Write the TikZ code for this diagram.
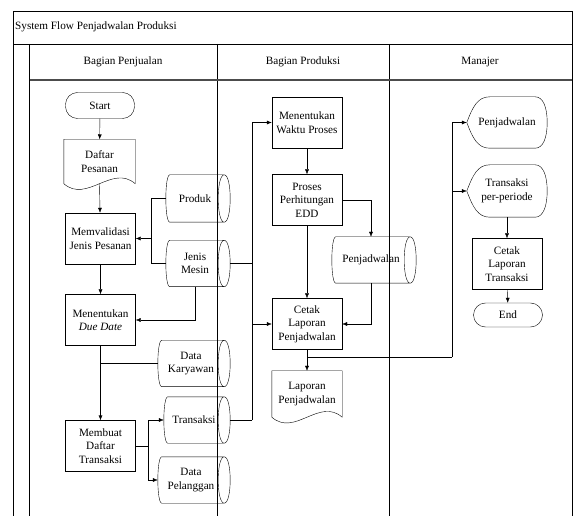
\documentclass[tikz,border=0pt]{standalone}
\usepackage{fontspec}
\setmainfont{Liberation Serif}
\usetikzlibrary{arrows.meta,calc}

\begin{document}
\begin{tikzpicture}[x=1pt,y=1pt,yscale=-1,
    font=\fontsize{11.2}{13.6}\selectfont,
    every node/.style={inner sep=1pt, align=center},
    proc/.style={draw, minimum width=70, minimum height=51},
    term/.style={draw, rounded corners=12, minimum width=69, minimum height=26},
    store/.style={minimum width=58, minimum height=46,
        append after command={\pgfextra{\draw ([xshift=4]\tikzlastnode.north west) -- (\tikzlastnode.north east) .. controls +(8,0) and +(8,0) .. (\tikzlastnode.south east) -- ([xshift=4]\tikzlastnode.south west) .. controls +(-5.3,0) and +(-5.3,0) .. ([xshift=4]\tikzlastnode.north west) -- cycle (\tikzlastnode.north east) .. controls +(-8,0) and +(-8,0) .. (\tikzlastnode.south east);}}},
    docu/.style={minimum width=71, minimum height=44,
        append after command={\pgfextra{\draw (\tikzlastnode.south west) -- (\tikzlastnode.north west) -- (\tikzlastnode.north east) -- (\tikzlastnode.south east) .. controls +(-23,-20) and +(23,20) .. (\tikzlastnode.south west);}}},
    disp/.style={minimum width=80, minimum height=51,
        append after command={\pgfextra{\draw (\tikzlastnode.west) .. controls +(6,-16) and +(-12,0) .. ([xshift=23]\tikzlastnode.north west) -- ([xshift=-12]\tikzlastnode.north east) .. controls +(8,0) and +(0,-15) .. (\tikzlastnode.east) .. controls +(0,15) and +(8,0) .. ([xshift=-12]\tikzlastnode.south east) -- ([xshift=23]\tikzlastnode.south west) .. controls +(-12,0) and +(6,16) .. (\tikzlastnode.west) -- cycle;}}},
    flow/.style={-{Latex[length=5pt,width=4pt]}}
]
\useasboundingbox (0,0) rectangle (574,516);

% swimlanes
\draw (13,516) -- (13,11) -- (572,11) -- (572,516);
\draw (13,44) -- (572,44);
\draw (29.5,44) -- (29.5,516);
\draw (217,44) -- (217,516);
\draw (389,44) -- (389,516);
\draw[line width=1.3, black!70] (29.5,80) -- (572,80);

\node[anchor=west] (judul) at (14,27) {System Flow Penjadwalan Produksi};
\node (hjual) at (123,62) {Bagian Penjualan};
\node (hprod) at (303,62) {Bagian Produksi};
\node (hman) at (480,62) {Manajer};

% Bagian Penjualan
\node[term] (start) at (100,105.5) {Start};
\node[docu] (dafpes) at (99.5,161.5) {Daftar\\Pesanan};
\node[proc] (valid) at (100.5,238.5) {Memvalidasi\\Jenis Pesanan};
\node[proc] (duedate) at (100.5,320) {Menentukan\\\textit{Due Date}};
\node[proc] (membuat) at (100.5,446) {Membuat\\Daftar\\Transaksi};
\node[store, minimum height=47] (produk) at (195,198.5) {Produk};
\node[store] (mesin) at (195,263.5) {Jenis\\Mesin};
\node[store, minimum width=66] (karyawan) at (191,363.5) {Data\\Karyawan};
\node[store, minimum width=60] (transaksi) at (194,420) {Transaksi};
\node[store, minimum width=66] (pelanggan) at (191,480) {Data\\Pelanggan};

% Bagian Produksi
\node[proc] (waktu) at (307,122.5) {Menentukan\\Waktu Proses};
\node[proc] (edd) at (307,200) {Proses\\Perhitungan\\EDD};
\node[store, minimum width=78] (penj) at (371,260) {Penjadwalan};
\node[proc] (cetak) at (307,324) {Cetak\\Laporan\\Penjadwalan};
\node[docu, minimum width=70, minimum height=46] (lappen) at (307,394) {Laporan\\Penjadwalan};

% Manajer
\node[disp] (dispj) at (507,122.5) {Penjadwalan};
\node[disp, minimum height=52] (disptr) at (507,191) {Transaksi\\per-periode};
\node[proc] (cetaktr) at (507,264) {Cetak\\Laporan\\Transaksi};
\node[term, minimum height=24] (end) at (508,315) {End};

\coordinate (jA) at ($(valid.east)+(15,0)$);
\coordinate (jC) at ($(membuat.east)+(12,0)$);
\coordinate (bus) at (252,420);
\coordinate (busM) at (452,357);

% connectors
\draw[flow] (start) -- (dafpes);
\draw[flow] (dafpes.south) -- (valid);
\draw (produk.west) -| (jA) |- (mesin.west);
\draw[flow] (jA) -- (valid);
\draw[flow] (mesin.south) |- (duedate.east);
\draw[flow] (valid) -- (duedate);
\draw[flow] (duedate) -- (membuat);
\draw (karyawan.west) -- (karyawan.west -| duedate.south);
\draw (membuat.east) -- (jC);
\draw[flow] (jC) |- (transaksi.west);
\draw[flow] (jC) |- (pelanggan.west);
\draw ([xshift=6]transaksi.east) -- (bus);
\draw ([xshift=6]mesin.east) -- (mesin.east -| bus);
\draw[flow] (bus) |- (waktu.west);
\draw[flow] (cetak.west -| bus) -- (cetak.west);
\draw[flow] (waktu) -- (edd);
\draw[flow] (edd.east) -| (penj.north);
\draw[flow] (penj.south) |- (cetak.east);
\draw[flow] (edd) -- (cetak);
\draw[flow] (cetak) -- (lappen);
\draw (cetak.south |- busM) -- (busM);
\draw[flow] (busM) |- (dispj.west);
\draw[flow] (busM |- disptr.west) -- (disptr.west);
\draw[flow] (disptr) -- (cetaktr);
\draw[flow] (cetaktr) -- (end);
\end{tikzpicture}
\end{document}
